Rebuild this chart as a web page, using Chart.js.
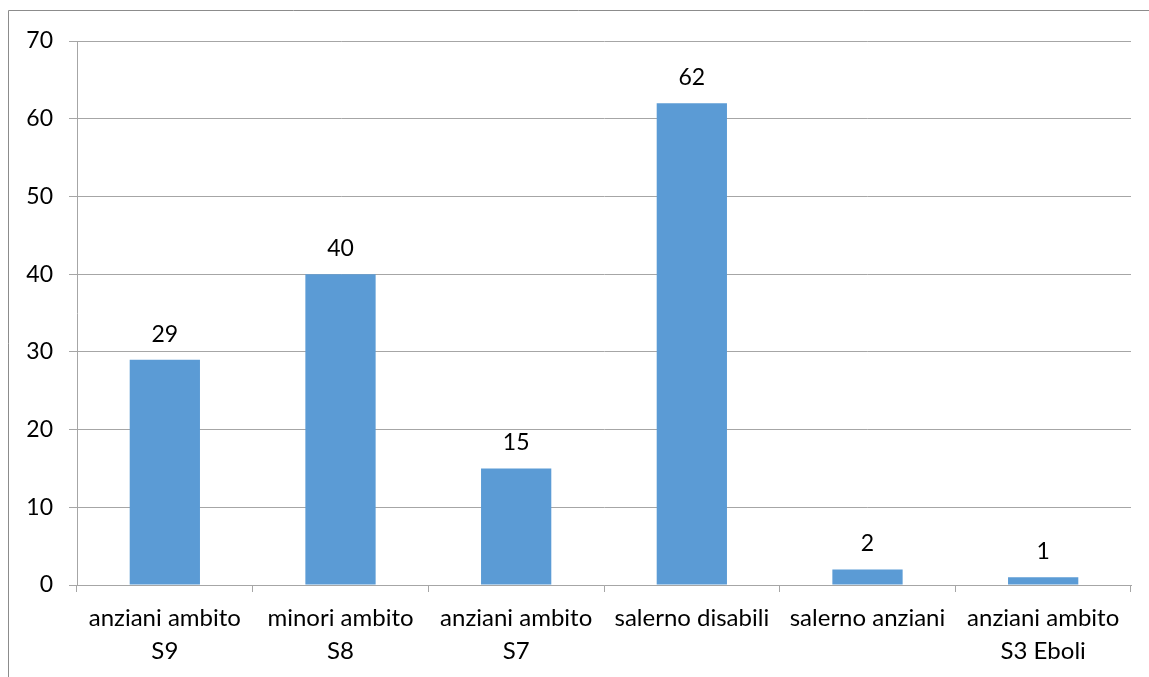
<!DOCTYPE html>
<html>
<head>
<meta charset="utf-8">
<script src="https://cdn.jsdelivr.net/npm/chart.js@4/dist/chart.umd.min.js"></script>
<style>
  body { margin: 0; background: #fff; }
  canvas { display: block; }
</style>
</head>
<body>
<canvas id="myChart" width="1149" height="677"></canvas>
<script>
var categories = [
  ["anziani ambito", "S9"],
  ["minori ambito", "S8"],
  ["anziani ambito", "S7"],
  "salerno disabili",
  "salerno anziani",
  ["anziani ambito", "S3 Eboli"]
];
var values = [29, 40, 15, 62, 2, 1];
var yTicks = [0, 10, 20, 30, 40, 50, 60, 70];

var gridGray = "#a6a6a6";
var fontFamily = "Lato, 'Open Sans', sans-serif";

// outer frame of the chart box (runs off the right and bottom edge)
var framePlugin = {
  id: "frame",
  beforeDraw: function (chart) {
    var c = chart.ctx;
    c.save();
    c.strokeStyle = "#8c8c8c";
    c.lineWidth = 1;
    c.beginPath();
    c.moveTo(8.5, 677);
    c.lineTo(8.5, 10.5);
    c.lineTo(1149, 10.5);
    c.stroke();
    c.restore();
  }
};

// value labels above the bars
var valueLabels = {
  id: "valueLabels",
  afterDatasetsDraw: function (chart) {
    var c = chart.ctx;
    var meta = chart.getDatasetMeta(0);
    c.save();
    c.font = "23px " + fontFamily;
    c.fillStyle = "#000";
    c.textAlign = "center";
    c.textBaseline = "alphabetic";
    meta.data.forEach(function (bar, i) {
      c.fillText(String(values[i]), bar.x, bar.y - 18);
    });
    c.restore();
  }
};

var ctx = document.getElementById("myChart");
var myChart = new Chart(ctx, {
  type: "bar",
  data: {
    labels: categories,
    datasets: [{
      data: values,
      backgroundColor: "#5b9bd5",
      borderWidth: 0,
      barPercentage: 0.4,
      categoryPercentage: 1.0
    }]
  },
  options: {
    responsive: false,
    animation: false,
    devicePixelRatio: 1,
    layout: { padding: { left: 0, top: 41, right: 18, bottom: 0 } },
    plugins: {
      legend: { display: false },
      tooltip: { enabled: false }
    },
    scales: {
      x: {
        offset: true,
        grid: {
          offset: true,
          drawOnChartArea: false,
          drawTicks: true,
          tickLength: 7,
          color: gridGray
        },
        border: { color: gridGray },
        ticks: {
          color: "#000",
          maxRotation: 0,
          autoSkip: false,
          padding: 9,
          font: { family: fontFamily, size: 24, lineHeight: 1.4 }
        },
        afterFit: function (scale) { scale.height = 92; }
      },
      y: {
        min: 0,
        max: 70,
        afterBuildTicks: function (scale) {
          scale.ticks = yTicks.map(function (v) { return { value: v }; });
        },
        grid: {
          color: gridGray,
          drawTicks: true,
          tickLength: 8
        },
        border: { color: gridGray },
        ticks: {
          color: "#000",
          padding: 16,
          font: { family: fontFamily, size: 23 }
        },
        afterFit: function (scale) { scale.width = 77; }
      }
    }
  },
  plugins: [framePlugin, valueLabels]
});
</script>
</body>
</html>
